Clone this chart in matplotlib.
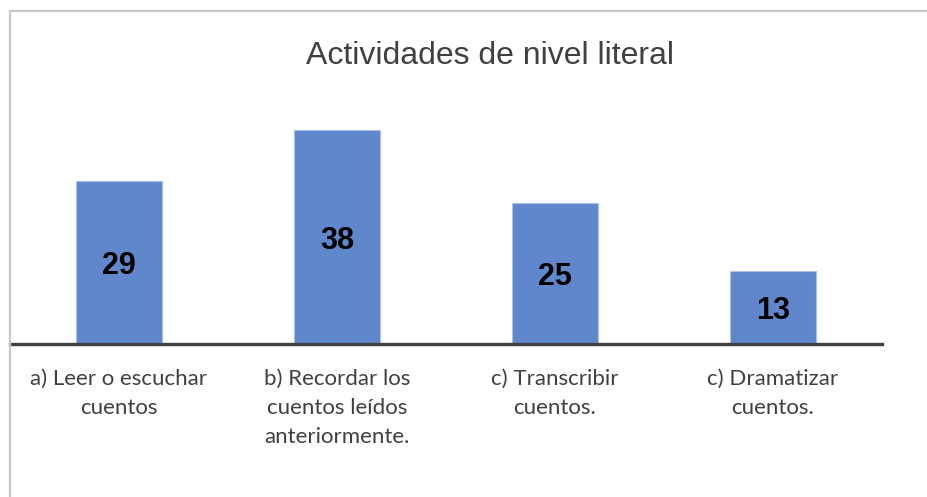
import matplotlib
matplotlib.use("Agg")
import matplotlib.pyplot as plt
from matplotlib.patches import Rectangle

categories = ["a) Leer o escuchar\ncuentos",
              "b) Recordar los\ncuentos leídos\nanteriormente.",
              "c) Transcribir\ncuentos.",
              "c) Dramatizar\ncuentos."]
values = [29, 38, 25, 13]
title = "Actividades de nivel literal"

W, H = 927, 497
fig = plt.figure(figsize=(W/100, H/100), dpi=100)
fig.patch.set_facecolor("white")

# outer chart border (only top/left visible in crop)
fig.add_artist(Rectangle((9.5/W, -0.05), 1.2, 1 - 10.5/H + 0.05,
                         transform=fig.transFigure, fill=False,
                         edgecolor="#c8c8c8", linewidth=1.6))

ymax = 45
base_px, x0, x1 = 344, 10, 882
unit = 5.62
top_px = base_px - ymax * unit
ax = fig.add_axes([x0/W, 1 - base_px/H, (x1 - x0)/W, (base_px - top_px)/H])
ax.set_facecolor("none")

xs = list(range(len(values)))
bars = ax.bar(xs, values, width=0.395, color="#6087cc",
              edgecolor="#a8c0ea", linewidth=0.8, zorder=2)
ax.set_xlim(-0.5, len(values) - 0.5)
ax.set_ylim(0, ymax)

for x, v in zip(xs, values):
    ax.text(x, v/2, str(v), ha="center", va="center_baseline",
            fontsize=22, fontweight="bold", color="black",
            family="Liberation Sans", zorder=3)

for s in ["top", "left", "right"]:
    ax.spines[s].set_visible(False)
ax.spines["bottom"].set_color("#404040")
ax.spines["bottom"].set_linewidth(2.4)
ax.spines["bottom"].set_zorder(4)
ax.set_yticks([])
ax.set_xticks(xs)
ax.set_xticklabels(categories, fontsize=16, family="Lato", color="#404040",
                   linespacing=1.55)
ax.tick_params(axis="x", length=0, pad=18)

fig.text(490/W, 1 - 56/H, title, ha="center", va="center",
         fontsize=23, family="Liberation Sans", color="#404040")

fig.savefig("out.png", dpi=100, facecolor="white")
